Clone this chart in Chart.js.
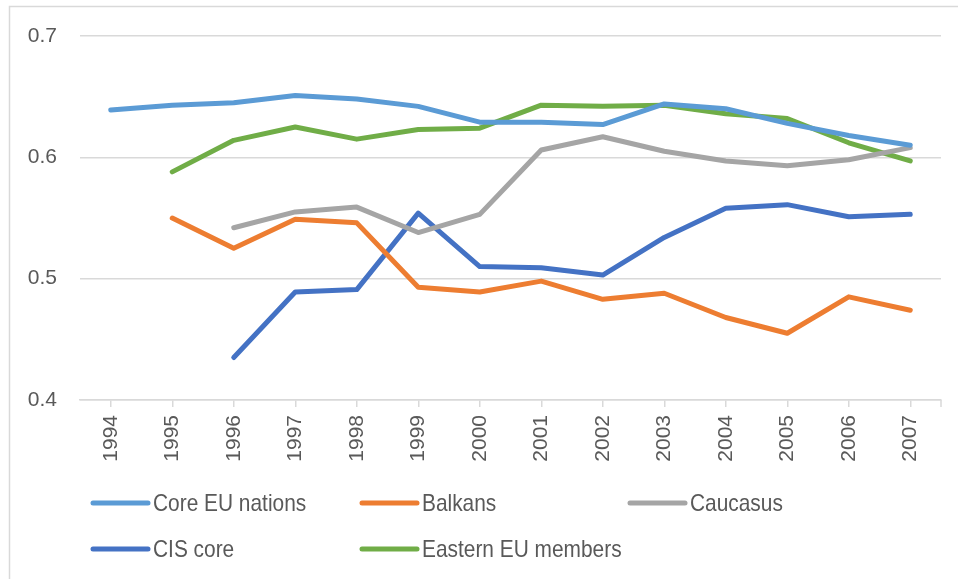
<!DOCTYPE html>
<html>
<head>
<meta charset="utf-8">
<script src="https://cdn.jsdelivr.net/npm/chart.js@4/dist/chart.umd.min.js"></script>
<style>
  html, body { margin: 0; padding: 0; background: #ffffff; }
  #wrap { position: relative; width: 958px; height: 579px; }
</style>
</head>
<body>
<div id="wrap"><canvas id="chart" width="958" height="579"></canvas></div>
<script>
// Years on the category axis
const years = ['1994','1995','1996','1997','1998','1999','2000','2001','2002','2003','2004','2005','2006','2007'];

// Series values per year (null = no observation)
const coreEU   = [0.639, 0.643, 0.645, 0.651, 0.648, 0.642, 0.629, 0.629, 0.627, 0.644, 0.640, 0.628, 0.618, 0.610];
const balkans  = [null, 0.550, 0.525, 0.549, 0.546, 0.493, 0.489, 0.498, 0.483, 0.488, 0.468, 0.455, 0.485, 0.474];
const caucasus = [null, null, 0.542, 0.555, 0.559, 0.538, 0.553, 0.606, 0.617, 0.605, 0.597, 0.593, 0.598, 0.608];
const cisCore  = [null, null, 0.435, 0.489, 0.491, 0.554, 0.510, 0.509, 0.503, 0.534, 0.558, 0.561, 0.551, 0.553];
const eastEU   = [null, 0.588, 0.614, 0.625, 0.615, 0.623, 0.624, 0.643, 0.642, 0.643, 0.636, 0.632, 0.612, 0.597];

// Y axis range and tick step
const yMin = 0.4, yMax = 0.7, yStep = 0.1;

const seriesNames  = ['Core EU nations', 'Balkans', 'Caucasus', 'CIS core', 'Eastern EU members'];
const seriesColors = ['#5B9BD5', '#ED7D31', '#A5A5A5', '#4472C4', '#70AD47'];
const seriesData   = [coreEU, balkans, caucasus, cisCore, eastEU];

const textColor = '#595959';
const gridColor = '#D9D9D9';
const tickFont = { family: 'Liberation Sans', size: 21 };

// Legend laid out in fixed columns, two rows
const legendSlots = [
  { x: 93,  y: 503 }, { x: 362, y: 503 }, { x: 630, y: 503 },
  { x: 93,  y: 549 }, { x: 362, y: 549 }
];

const frameAndLegend = {
  id: 'frameAndLegend',
  afterDraw(chart) {
    const ctx = chart.ctx;
    ctx.save();
    // outer frame
    ctx.strokeStyle = gridColor;
    ctx.lineWidth = 1.5;
    ctx.strokeRect(9.5, 6.5, 1000, 1000);
    // tick at right edge of category axis
    const area = chart.chartArea;
    ctx.beginPath();
    ctx.moveTo(area.right, area.bottom);
    ctx.lineTo(area.right, area.bottom + 7);
    ctx.stroke();
    // legend: line swatch followed by a tall, narrow label
    chart.data.datasets.forEach((ds, i) => {
      const s = legendSlots[i];
      ctx.strokeStyle = ds.borderColor;
      ctx.lineWidth = 5;
      ctx.lineCap = 'round';
      ctx.beginPath();
      ctx.moveTo(s.x, s.y);
      ctx.lineTo(s.x + 55, s.y);
      ctx.stroke();
      ctx.save();
      ctx.translate(s.x + 60, s.y + 1);
      ctx.scale(0.87, 1);
      ctx.font = "24px 'Liberation Sans'";
      ctx.textBaseline = 'middle';
      ctx.textAlign = 'left';
      ctx.fillStyle = textColor;
      ctx.fillText(ds.label, 0, 0);
      ctx.restore();
    });
    ctx.restore();
  }
};

new Chart(document.getElementById('chart'), {
  type: 'line',
  data: {
    labels: years,
    datasets: seriesNames.map((name, i) => ({
      label: name,
      data: seriesData[i],
      borderColor: seriesColors[i],
      backgroundColor: seriesColors[i],
      borderWidth: 5,
      borderCapStyle: 'round',
      borderJoinStyle: 'round',
      pointRadius: 0,
      pointHoverRadius: 0,
      tension: 0,
      fill: false
    }))
  },
  options: {
    responsive: false,
    animation: false,
    events: [],
    layout: { padding: { top: 36, right: 17, left: 0, bottom: 0 } },
    plugins: {
      legend: { display: false },
      tooltip: { enabled: false }
    },
    scales: {
      x: {
        offset: true,
        grid: { display: true, offset: false, drawOnChartArea: false, drawTicks: true, tickLength: 7, color: gridColor, lineWidth: 1.5 },
        border: { display: true, color: gridColor, width: 1.5 },
        ticks: { color: textColor, font: tickFont, minRotation: 90, maxRotation: 90, padding: 8, autoSkip: false },
        afterFit(scale) { scale.height = 179; }
      },
      y: {
        min: yMin,
        max: yMax,
        grid: { color: gridColor, lineWidth: 1.5, drawTicks: false },
        border: { display: false },
        ticks: {
          stepSize: yStep,
          color: textColor,
          font: tickFont,
          padding: 23,
          callback: v => (Math.round(v * 10) / 10).toString()
        },
        afterFit(scale) { scale.width = 80; }
      }
    }
  },
  plugins: [frameAndLegend]
});
</script>
</body>
</html>
